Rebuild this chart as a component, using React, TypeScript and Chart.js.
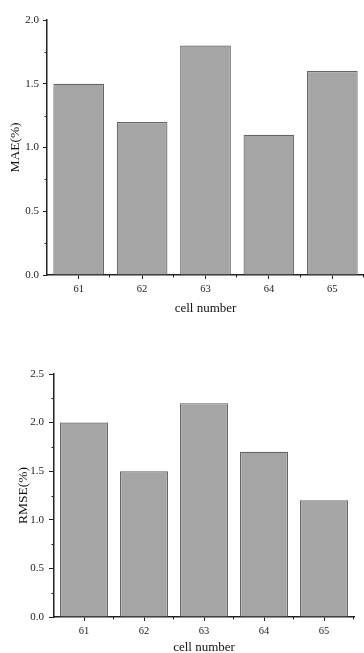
import React, { useEffect, useRef } from 'react';
import { Chart, registerables } from 'chart.js';

Chart.register(...registerables);

const categories = ['61', '62', '63', '64', '65'];
const maeValues = [1.5, 1.2, 1.8, 1.1, 1.6];
const rmseValues = [2.0, 1.5, 2.2, 1.7, 1.2];
const maeMax = 2.0;
const rmseMax = 2.5;
const xTitle = 'cell number';
const maeTitle = 'MAE(%)';
const rmseTitle = 'RMSE(%)';

const FONT = '"Liberation Serif", "Times New Roman", serif';
const AXIS = '#222222';

const minorTicks = {
  id: 'minorTicks',
  afterDraw(chart: any) {
    const { ctx } = chart;
    const x = chart.scales.x;
    const y = chart.scales.y;
    ctx.save();
    ctx.strokeStyle = AXIS;
    ctx.lineWidth = 1;
    const n = x.ticks.length;
    const w = (x.right - x.left) / n;
    for (let i = 1; i <= n; i++) {
      const px = Math.round(x.left + i * w) - 0.5;
      ctx.beginPath();
      ctx.moveTo(px, x.top);
      ctx.lineTo(px, x.top + 2.5);
      ctx.stroke();
    }
    const vals = y.ticks.map((t: any) => t.value);
    for (let i = 0; i < vals.length - 1; i++) {
      const v = (vals[i] + vals[i + 1]) / 2;
      const py = Math.round(y.getPixelForValue(v)) + 0.5;
      ctx.beginPath();
      ctx.moveTo(y.right - 2.5, py);
      ctx.lineTo(y.right, py);
      ctx.stroke();
    }
    ctx.restore();
  },
};

type Geo = {
  height: number;
  left: number;
  top: number;
  right: number;
  bottom: number;
  yTickLen: number;
  yTickPad: number;
  yTitlePad: number;
  xTitlePad: number;
  xTitleLH: number;
};

function makeConfig(values: number[], yTitle: string, max: number, g: Geo): any {
  return {
    type: 'bar',
    data: {
      labels: categories,
      datasets: [
        {
          data: values,
          backgroundColor: '#a5a5a5',
          borderColor: '#666666',
          borderWidth: 1.2,
          barPercentage: 0.8,
          categoryPercentage: 1.0,
        },
      ],
    },
    plugins: [minorTicks],
    options: {
      responsive: false,
      animation: false,
      devicePixelRatio: 1,
      layout: { padding: { top: g.top, right: 364 - g.right, left: 0, bottom: 0 } },
      plugins: { legend: { display: false }, tooltip: { enabled: false }, title: { display: false } },
      scales: {
        x: {
          offset: true,
          grid: {
            offset: false,
            drawOnChartArea: false,
            drawTicks: true,
            tickLength: 4,
            color: AXIS,
            lineWidth: 1,
          },
          border: { display: true, color: AXIS, width: 1.5 },
          ticks: { color: '#222', font: { family: FONT, size: 10.5 }, padding: 3.5, maxRotation: 0 },
          title: {
            display: true,
            text: xTitle,
            color: '#111',
            font: { family: FONT, size: 13, lineHeight: g.xTitleLH },
            padding: { top: 0, bottom: g.xTitlePad },
          },
          afterFit: (s: any) => {
            s.height = g.height - g.bottom;
          },
        },
        y: {
          min: 0,
          max: max,
          grid: {
            drawOnChartArea: false,
            drawTicks: true,
            tickLength: g.yTickLen,
            color: AXIS,
            lineWidth: 1,
          },
          border: { display: true, color: AXIS, width: 1.5 },
          ticks: {
            stepSize: 0.5,
            color: '#222',
            font: { family: FONT, size: 11 },
            padding: g.yTickPad,
            callback: (v: any) => Number(v).toFixed(1),
          },
          title: {
            display: true,
            text: yTitle,
            color: '#111',
            font: { family: FONT, size: 13.5, lineHeight: 1.2 },
            padding: { top: g.yTitlePad, bottom: 0 },
          },
          afterFit: (s: any) => {
            s.width = g.left;
          },
        },
      },
    },
  };
}

const topGeo: Geo = {
  height: 322,
  left: 47,
  top: 20,
  right: 364,
  bottom: 275,
  yTickLen: 4,
  yTickPad: 4,
  yTitlePad: 7,
  xTitlePad: 6,
  xTitleLH: 1.2,
};

const bottomGeo: Geo = {
  height: 323,
  left: 54,
  top: 44,
  right: 354,
  bottom: 287,
  yTickLen: 5,
  yTickPad: 5,
  yTitlePad: 15,
  xTitlePad: 0,
  xTitleLH: 0.8,
};

function BarPanel({ values, yTitle, max, geo, top }: { values: number[]; yTitle: string; max: number; geo: Geo; top: number }) {
  const ref = useRef<HTMLCanvasElement | null>(null);
  useEffect(() => {
    if (!ref.current) return;
    const chart = new Chart(ref.current, makeConfig(values, yTitle, max, geo));
    return () => chart.destroy();
  }, []);
  return (
    <canvas
      ref={ref}
      width={364}
      height={geo.height}
      style={{ position: 'absolute', left: 0, top, width: 364, height: geo.height, display: 'block' }}
    />
  );
}

export default function App() {
  return (
    <div style={{ position: 'absolute', left: 0, top: 0, width: 364, height: 653, background: '#ffffff', overflow: 'hidden' }}>
      <BarPanel values={maeValues} yTitle={maeTitle} max={maeMax} geo={topGeo} top={0} />
      <BarPanel values={rmseValues} yTitle={rmseTitle} max={rmseMax} geo={bottomGeo} top={330} />
    </div>
  );
}
